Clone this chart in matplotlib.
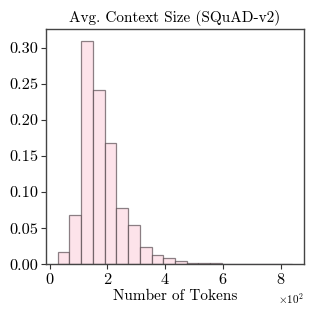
import numpy as np
import matplotlib
matplotlib.use("Agg")
import matplotlib.pyplot as plt

# Data (probability per bin, tokens)
token_min = 28
token_max = 840
probabilities = [0.0167, 0.069, 0.310, 0.241, 0.168, 0.078, 0.055, 0.0245, 0.013, 0.0083,
                 0.0046, 0.0023, 0.0018, 0.0014, 0.0003, 0.0, 0.0010, 0.0003, 0.0, 0.0010]
title = "Avg. Context Size (SQuAD-v2)"
xlabel = "Number of Tokens"

plt.rcParams['font.family'] = 'serif'
plt.rcParams['font.serif'] = ['cmr10']
plt.rcParams['mathtext.fontset'] = 'cm'
plt.rcParams['axes.formatter.use_mathtext'] = True

edges = np.linspace(token_min, token_max, len(probabilities) + 1)
centers = (edges[:-1] + edges[1:]) / 2

fig = plt.figure(figsize=(3.16, 3.16), dpi=100)
ax = fig.add_axes([0.1456, 0.1636, 0.8164, 0.7434])
ax.hist(centers, bins=edges, weights=probabilities, facecolor='#fde3ea',
        edgecolor=(0.25, 0.2, 0.22, 0.6), linewidth=0.9)
ax.ticklabel_format(style='sci', axis='x', scilimits=(0, 0))
ax.set_xticks([0, 200, 400, 600, 800])
ax.set_yticks([0.0, 0.05, 0.10, 0.15, 0.20, 0.25, 0.30])
ax.yaxis.set_major_formatter(matplotlib.ticker.FormatStrFormatter('%.2f'))
ax.set_title(title, fontsize=11, pad=5)
ax.set_xlabel(xlabel, fontsize=11, labelpad=2)
ax.tick_params(labelsize=11.8, length=3.5, width=0.8, color='#333333', pad=2)
for s in ax.spines.values():
    s.set_color('#444444')
    s.set_linewidth(1.0)
ax.xaxis.get_offset_text().set_fontsize(8)
fig.savefig("out.png", dpi=100)
